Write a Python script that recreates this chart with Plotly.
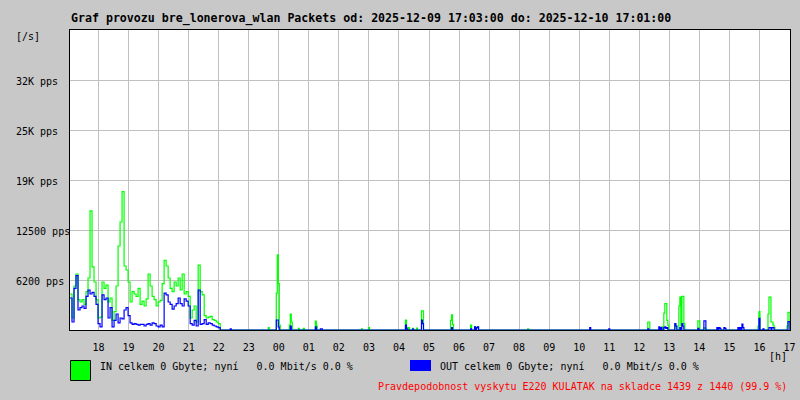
import numpy as np
import pandas as pd
import plotly.graph_objects as go

# ---------------- data ----------------
title_text = "Graf provozu bre_lonerova_wlan Packets od: 2025-12-09 17:03:00 do: 2025-12-10 17:01:00"
t_start = "2025-12-09 17:03"
t_end = "2025-12-10 17:01"

y_tick_vals = [6250, 12500, 18750, 25000, 31250]
y_tick_text = ["6200 pps", "12500 pps", "19K pps", "25K pps", "32K pps"]

# busy period 17:03 - 22:02, one value every 4 minutes (pps)
busy_in = [4500, 1500, 5500, 7000, 3800, 3500, 3800, 3200, 4800, 6500,
           14900, 7900, 6000, 3800, 1500, 1600, 6000, 5200, 5600, 3500,
           4000, 1200, 2300, 5500, 10500, 13500, 17300, 8000, 7500, 6000,
           3500, 4800, 4500, 4200, 5200, 3200, 3600, 3000, 3900, 7000,
           5500, 4200, 3800, 3000, 3500, 3700, 5800, 8700, 8000, 6500,
           5200, 4800, 6000, 5500, 6500, 5000, 7000, 4500, 4800, 4200,
           1500, 2500, 3000, 1000, 8100, 4800, 4400, 1800, 1500, 1600,
           1700, 1300, 1200, 1000, 800]
busy_out = [4000, 1000, 5200, 6800, 2500, 2800, 3000, 2700, 4200, 5000,
            4500, 4700, 4200, 3200, 800, 400, 4400, 3800, 4000, 1500,
            2800, 400, 1200, 2000, 900, 1500, 1400, 2500, 2800, 1800,
            900, 700, 800, 700, 600, 700, 700, 500, 700, 800,
            600, 900, 800, 500, 400, 600, 400, 4600, 4400, 3500,
            3200, 2600, 3000, 3300, 4000, 3300, 3000, 3900, 3600, 3000,
            800, 600, 1200, 500, 5000, 700, 800, 1300, 700, 900,
            800, 600, 500, 400, 300]

# isolated bursts later in the day (2-minute samples)
spike_times = ["22:23", "23:39", "23:55", "23:57", "23:59", "00:01", "00:21", "00:23", "00:25",
               "00:39", "00:49", "01:13", "01:15", "01:23", "01:25", "02:45", "02:59",
               "04:13", "04:15", "04:19", "04:27", "04:35", "04:45", "04:47",
               "05:43", "05:45", "05:47", "06:23", "06:31", "06:35", "06:37", "08:17",
               "10:21", "10:59", "12:17", "12:19", "12:39", "12:43", "12:45", "12:49",
               "12:51", "12:53", "12:55", "12:57", "13:11", "13:13", "13:19", "13:21",
               "13:23", "13:25", "13:27", "13:29", "13:57", "13:59", "14:09", "14:11",
               "14:35", "14:39", "14:41", "14:49", "14:51", "15:17", "15:21", "15:25",
               "15:27", "15:57", "15:59", "16:07", "16:17", "16:19", "16:21", "16:23",
               "16:25", "16:27", "16:29", "16:55", "16:57", "16:59"]
spike_in = [0, 300, 4600, 9400, 5800, 600, 600, 2000, 1000,
            200, 200, 1100, 500, 0, 0, 150, 300,
            1250, 300, 300, 200, 250, 2400, 2400,
            1200, 1900, 700, 600, 400, 300, 400, 150,
            0, 0, 1000, 1000, 0, 0, 400, 2100,
            3300, 3300, 1200, 600, 800, 500, 3000, 4100,
            500, 4200, 4200, 800, 1150, 1150, 300, 200,
            0, 0, 0, 0, 0, 0, 0, 0,
            0, 500, 2300, 0, 2000, 4100, 4100, 1000,
            1000, 600, 300, 500, 2200, 2200]
spike_out = [150, 0, 1250, 1250, 400, 0, 0, 500, 0,
             0, 0, 400, 0, 150, 150, 0, 0,
             600, 100, 0, 100, 0, 1250, 800,
             0, 300, 0, 150, 400, 300, 400, 0,
             300, 150, 150, 0, 400, 300, 0, 300,
             400, 200, 300, 0, 800, 500, 0, 300,
             0, 800, 500, 0, 200, 0, 1150, 1150,
             300, 300, 200, 300, 200, 300, 300, 750,
             300, 0, 1450, 150, 0, 300, 300, 0,
             300, 300, 0, 0, 1050, 1050]

legend_in = "IN celkem 0 Gbyte; nyní   0.0 Mbit/s 0.0 %"
legend_out = "OUT celkem 0 Gbyte; nyní   0.0 Mbit/s 0.0 %"
footer_text = "Pravdepodobnost vyskytu E220 KULATAK na skladce 1439 z 1440 (99.9 %)"

# ---------------- build series on the 2-minute grid ----------------
start = pd.Timestamp(t_start)
end = pd.Timestamp(t_end)
grid = pd.date_range(start, end, freq="2min")
in_vals = np.zeros(len(grid))
out_vals = np.zeros(len(grid))
for k, (g, b) in enumerate(zip(busy_in, busy_out)):
    for j in (2 * k, 2 * k + 1):
        in_vals[j] = g
        out_vals[j] = b
for ts, g, b in zip(spike_times, spike_in, spike_out):
    hh = int(ts[:2])
    day = "2025-12-09" if hh >= 17 else "2025-12-10"
    t = pd.Timestamp(f"{day} {ts}")
    idx = int(round((t - start) / pd.Timedelta("2min")))
    if 0 <= idx < len(grid):
        in_vals[idx] = g
        out_vals[idx] = b

MONO = "DejaVu Sans Mono"

fig = go.Figure()
fig.add_trace(go.Scatter(x=grid, y=in_vals, mode="lines",
                         line=dict(color="#00ff00", width=1.2, shape="hv"),
                         showlegend=False, hoverinfo="skip"))
fig.add_trace(go.Scatter(x=grid, y=out_vals, mode="lines",
                         line=dict(color="#0000ff", width=1.2, shape="hv"),
                         showlegend=False, hoverinfo="skip"))

fig.update_layout(
    width=800, height=400,
    margin=dict(l=70, r=10, t=30, b=70, autoexpand=False),
    paper_bgcolor="#c8c8c8",
    plot_bgcolor="#ffffff",
    font=dict(family=MONO, size=10, color="#000000"),
    showlegend=False,
)
fig.update_xaxes(
    type="date", range=[start, end], automargin=False,
    tick0="2025-12-09 18:00", dtick=3600000, tickformat="%H",
    showgrid=True, gridcolor="#c0c0c0", gridwidth=1,
    showline=True, linecolor="#000000", linewidth=1, mirror=True,
    ticks="", ticklabelstandoff=8,
    tickfont=dict(family=MONO, size=10, color="#000000"),
)
fig.update_yaxes(
    range=[0, 37500], tickvals=y_tick_vals, showticklabels=False, automargin=False,
    showgrid=True, gridcolor="#c0c0c0", gridwidth=1, zeroline=False,
    showline=True, linecolor="#000000", linewidth=1, mirror=True,
)

def px_x(px):
    return (px - 70) / 720.0

def px_y(py):
    return (330 - py) / 300.0

ann = []
ann.append(dict(text="<b>" + title_text + "</b>", xref="paper", yref="paper",
                x=px_x(69), y=px_y(18.5), xanchor="left", yanchor="middle",
                showarrow=False, font=dict(family=MONO, size=11.6, color="#000000")))
ann.append(dict(text="[/s]", xref="paper", yref="paper", x=px_x(14), y=px_y(37),
                xanchor="left", yanchor="middle", showarrow=False))
for v, t in zip(y_tick_vals, y_tick_text):
    ann.append(dict(text=t, xref="paper", yref="y", x=px_x(14), y=v - 180,
                    xanchor="left", yanchor="middle", showarrow=False))
ann.append(dict(text="[h]", xref="paper", yref="paper", x=px_x(789), y=px_y(356),
                xanchor="right", yanchor="middle", showarrow=False))
ann.append(dict(text=legend_in.replace(" ", "\u00a0"), xref="paper", yref="paper",
                x=px_x(98), y=px_y(366.5), xanchor="left", yanchor="middle", showarrow=False))
ann.append(dict(text=legend_out.replace(" ", "\u00a0"), xref="paper", yref="paper",
                x=px_x(438), y=px_y(366.5), xanchor="left", yanchor="middle", showarrow=False))
ann.append(dict(text=footer_text, xref="paper", yref="paper",
                x=px_x(789), y=px_y(386.5), xanchor="right", yanchor="middle",
                showarrow=False, font=dict(family=MONO, size=10, color="#ff0000")))
fig.update_layout(annotations=ann)

fig.add_shape(type="rect", xref="paper", yref="paper",
              x0=px_x(70.5), x1=px_x(90.5), y0=px_y(380.5), y1=px_y(360.5),
              fillcolor="#00ff00", line=dict(color="#000000", width=1))
fig.add_shape(type="rect", xref="paper", yref="paper",
              x0=px_x(410), x1=px_x(431), y0=px_y(371), y1=px_y(360),
              fillcolor="#0000ff", line=dict(width=0))

fig.write_html("out.html", config={"displayModeBar": False},
               post_script="document.body.style.margin='0px';document.body.style.background='#c8c8c8';")
